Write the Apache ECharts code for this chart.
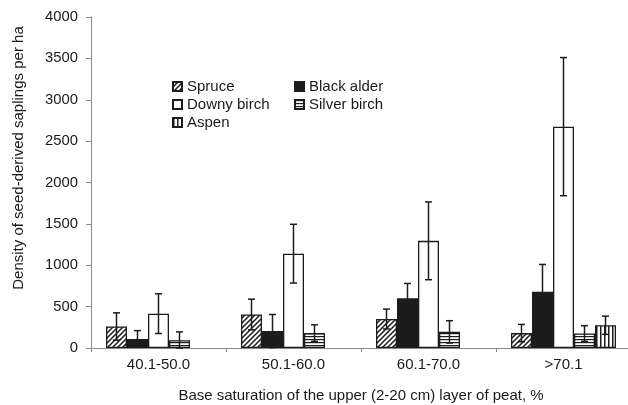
<!DOCTYPE html>
<html><head><meta charset="utf-8">
<script src="https://cdn.jsdelivr.net/npm/echarts@6/dist/echarts.min.js"></script>
<style>html,body{margin:0;padding:0;background:#fff}#c{width:628px;height:405px}</style>
</head><body><div id="c"></div>
<script>
var categories = ['40.1-50.0', '50.1-60.0', '60.1-70.0', '>70.1'];
var species = ['Spruce', 'Black alder', 'Downy birch', 'Silver birch', 'Aspen'];
var spruce = [260, 405, 350, 180];
var blackAlder = [110, 205, 600, 680];
var downyBirch = [415, 1140, 1295, 2675];
var silverBirch = [95, 180, 195, 175];
var aspen = [null, null, null, 275];
var spruceErr = [165, 185, 120, 105];
var blackAlderErr = [100, 200, 180, 330];
var downyBirchErr = [240, 355, 470, 835];
var silverBirchErr = [100, 100, 135, 95];
var aspenErr = [null, null, null, 110];
var yTicks = [0, 500, 1000, 1500, 2000, 2500, 3000, 3500, 4000];
var yTitle = 'Density of seed-derived saplings per ha';
var xTitle = 'Base saturation of the upper (2-20 cm) layer of peat, %';

var INK = '#1c1c1c';
function pat(w, h, draw) {
  var c = document.createElement('canvas'); c.width = w; c.height = h;
  var g = c.getContext('2d'); g.fillStyle = '#fff'; g.fillRect(0, 0, w, h);
  g.strokeStyle = INK; draw(g); return { image: c, repeat: 'repeat' };
}
var diag = pat(5, 5, function (g) {
  g.lineWidth = 1.5; g.beginPath();
  g.moveTo(-1, 6); g.lineTo(6, -1);
  g.moveTo(-1, 1); g.lineTo(1, -1);
  g.moveTo(4, 6); g.lineTo(6, 4);
  g.stroke();
});
var horiz = pat(4, 3, function (g) { g.fillStyle = INK; g.fillRect(0, 0, 4, 1.2); });
var vert = pat(4, 4, function (g) { g.fillStyle = INK; g.fillRect(0, 0, 1.5, 4); });

var values = [spruce, blackAlder, downyBirch, silverBirch, aspen];
var errs = [spruceErr, blackAlderErr, downyBirchErr, silverBirchErr, aspenErr];
var fills = [diag, INK, '#ffffff', horiz, vert];
var BW = 21;

var series = [];
species.forEach(function (name, k) {
  series.push({
    name: name, type: 'bar', barWidth: BW, barGap: '0%',
    data: values[k],
    itemStyle: { color: fills[k], borderColor: INK, borderWidth: 1.3 }
  });
});
species.forEach(function (name, k) {
  var d = [];
  values[k].forEach(function (v, i) { if (v != null && errs[k][i] != null) d.push([i, v, errs[k][i]]); });
  series.push({
    name: name + ' error', type: 'custom', z: 10, silent: true,
    data: d,
    renderItem: function (params, api) {
      var i = api.value(0), v = api.value(1), e = api.value(2);
      var top = api.coord([i, v + e]);
      var bot = api.coord([i, Math.max(0, v - e)]);
      var x = top[0] + (k - 2) * BW;
      var cw = 3.5;
      var st = { stroke: INK, lineWidth: 1.5, fill: null };
      return { type: 'group', children: [
        { type: 'line', shape: { x1: x, y1: top[1], x2: x, y2: bot[1] }, style: st },
        { type: 'line', shape: { x1: x - cw, y1: top[1], x2: x + cw, y2: top[1] }, style: st },
        { type: 'line', shape: { x1: x - cw, y1: bot[1], x2: x + cw, y2: bot[1] }, style: st }
      ]};
    }
  });
});

var FONT = '"Liberation Sans", Arial, sans-serif';
var legendBase = {
  orient: 'vertical', itemWidth: 9, itemHeight: 9, itemGap: 3, padding: 0,
  icon: 'rect', selectedMode: false,
  textStyle: { fontFamily: FONT, fontSize: 15, color: '#1a1a1a' }
};
var chart = echarts.init(document.getElementById('c'), null, { renderer: 'canvas' });
chart.setOption({
  backgroundColor: '#ffffff',
  animation: false,
  grid: { left: 91, top: 17, width: 540, height: 331, containLabel: false, outerBoundsMode: 'none' },
  legend: [
    Object.assign({}, legendBase, { data: ['Spruce', 'Downy birch', 'Aspen'], left: 172, top: 79 }),
    Object.assign({}, legendBase, { data: ['Black alder', 'Silver birch'], left: 294, top: 79 })
  ],
  graphic: [{
    type: 'text', x: 19, y: 158, rotation: Math.PI / 2, silent: true,
    style: { text: yTitle, font: '15px ' + FONT, fill: '#1a1a1a', align: 'center', verticalAlign: 'middle' }
  }],
  xAxis: {
    type: 'category', data: categories, boundaryGap: true,
    name: xTitle,
    nameLocation: 'middle', nameGap: 40,
    nameTextStyle: { fontFamily: FONT, fontSize: 15, color: '#1a1a1a' },
    axisLine: { lineStyle: { color: '#8a8a8a', width: 1 } },
    axisTick: { show: true, length: 4, lineStyle: { color: '#8a8a8a' } },
    axisLabel: { margin: 9, fontFamily: FONT, fontSize: 15, color: '#1a1a1a' },
    splitLine: { show: false }
  },
  yAxis: {
    type: 'value', min: yTicks[0], max: yTicks[yTicks.length - 1], interval: 500,
    axisLine: { show: true, lineStyle: { color: '#8a8a8a', width: 1 } },
    axisTick: { show: true, length: 5, lineStyle: { color: '#8a8a8a' } },
    axisLabel: { margin: 13, fontFamily: FONT, fontSize: 14.8, color: '#1a1a1a',
      formatter: function (v) { return String(v); } },
    splitLine: { show: false }
  },
  series: series
});
</script></body></html>
